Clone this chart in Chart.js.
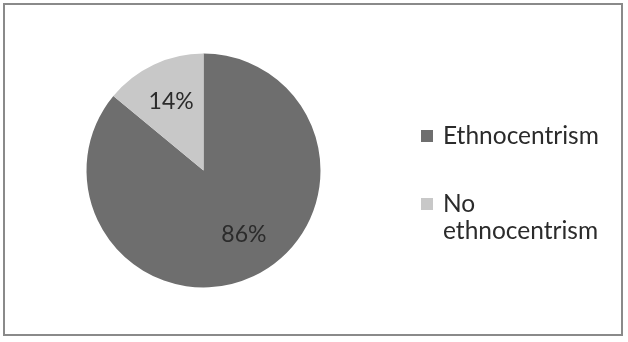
<!DOCTYPE html>
<html><head><meta charset="utf-8">
<script src="https://cdn.jsdelivr.net/npm/chart.js@4.4.0/dist/chart.umd.min.js"></script>
<style>
html,body{margin:0;padding:0;background:#fff;}
#wrap{position:relative;width:628px;height:342px;}
#frame{position:absolute;left:3px;top:3px;width:620px;height:333px;border:2px solid #8a8a8a;box-sizing:border-box;pointer-events:none;}
</style></head>
<body><div id="wrap"><canvas id="c" width="628" height="342"></canvas><div id="frame"></div></div>
<script>
const categories = ["Ethnocentrism", "No ethnocentrism"];
const legendLines = [["Ethnocentrism"], ["No", "ethnocentrism"]];
const values = [86, 14];
const labels = ["86%", "14%"];
const colors = ["#6e6e6e", "#c8c8c8"];

const FONT = "Lato, 'Open Sans', sans-serif";

const piePlugin = {
  id: 'pieExtras',
  afterDatasetsDraw(chart) {
    const ctx = chart.ctx;
    const meta = chart.getDatasetMeta(0);
    ctx.save();
    ctx.fillStyle = '#2b2b2b';
    ctx.font = '23px ' + FONT;
    ctx.textAlign = 'center';
    ctx.textBaseline = 'middle';
    meta.data.forEach((arc, i) => {
      const p = arc.getProps(['x','y','startAngle','endAngle','outerRadius']);
      let mid = (p.startAngle + p.endAngle) / 2;
      if (p.endAngle - p.startAngle > Math.PI) mid -= 0.12;
      const d = p.outerRadius * 0.65;
      ctx.fillText(labels[i], p.x + Math.cos(mid) * d, p.y + Math.sin(mid) * d);
    });
    // legend
    const lx = 421, tx = 443;
    const ys = [[136], [204, 231]];
    ctx.textAlign = 'left';
    ctx.font = '24.5px ' + FONT;
    legendLines.forEach((lines, i) => {
      ctx.fillStyle = colors[i];
      ctx.fillRect(lx, ys[i][0] - 6, 12, 12);
      ctx.fillStyle = '#2b2b2b';
      lines.forEach((t, j) => ctx.fillText(t, tx, ys[i][j]));
    });
    ctx.restore();
  }
};

new Chart(document.getElementById('c'), {
  type: 'pie',
  data: { labels: categories, datasets: [{ data: values, backgroundColor: colors, borderWidth: 0 }] },
  options: {
    responsive: false,
    animation: false,
    layout: { padding: { left: 86.5, top: 53.5, right: 307.5, bottom: 54.5 } },
    plugins: { legend: { display: false }, tooltip: { enabled: false } }
  },
  plugins: [piePlugin]
});
</script>
</body></html>
